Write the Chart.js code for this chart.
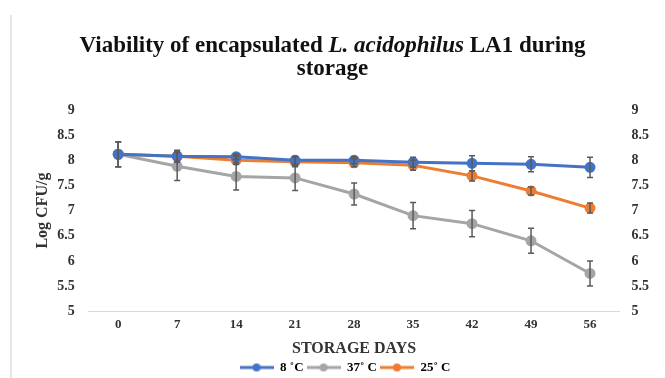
<!DOCTYPE html>
<html>
<head>
<meta charset="utf-8">
<script src="https://cdn.jsdelivr.net/npm/chart.js@4"></script>
<style>
html,body{margin:0;padding:0;background:#fff;}
#wrap{position:relative;width:665px;height:378px;overflow:hidden;}
#title{position:absolute;left:0;top:33px;width:665px;text-align:center;font-family:"Liberation Serif","Times New Roman",serif;font-weight:bold;font-size:23px;line-height:23px;color:#111;}
#leftline{position:absolute;left:10px;top:15px;width:2px;height:363px;background:#e6e6e6;}
canvas{position:absolute;left:0;top:0;}
</style>
</head>
<body>
<div id="wrap">
<div id="leftline"></div>
<canvas id="c" width="665" height="384"></canvas>
<div id="title">Viability of encapsulated <i>L. acidophilus</i> LA1 during<br>storage</div>
</div>
<script>
const days = ["0","7","14","21","28","35","42","49","56"];
const seriesNames = ["8 \u02DAC","37\u02DA C","25\u02DA C"];
const temp8 = [8.12,8.08,8.07,8.00,8.00,7.96,7.94,7.92,7.86];
const temp37 = [8.12,7.88,7.68,7.65,7.33,6.90,6.74,6.40,5.75];
const temp25 = [8.12,8.08,8.00,7.97,7.95,7.90,7.69,7.39,7.05];
const err8 = [0.25,0.12,0.05,0.08,0.07,0.10,0.15,0.15,0.20];
const err37 = [0.25,0.28,0.27,0.25,0.22,0.26,0.26,0.25,0.25];
const err25 = [0.25,0.10,0.08,0.10,0.08,0.10,0.10,0.08,0.10];
const yTicks = [5,5.5,6,6.5,7,7.5,8,8.5,9];
const colors = ["#4472C4","#A5A5A5","#ED7D31"];

function legendIcon(col){
  const cv=document.createElement('canvas');cv.width=34;cv.height=10;
  const g=cv.getContext('2d');
  g.strokeStyle=col;g.lineWidth=3;g.beginPath();g.moveTo(0,5);g.lineTo(34,5);g.stroke();
  g.fillStyle=col;g.beginPath();g.arc(17,5,4,0,Math.PI*2);g.fill();
  return cv;
}

const errorBars = {
  id:'errorBars',
  afterDatasetsDraw(chart){
    const ctx=chart.ctx, ys=chart.scales.y;
    chart.data.datasets.forEach((ds,di)=>{
      const meta=chart.getDatasetMeta(di);
      ctx.save();
      ctx.strokeStyle='#5a5a5a';ctx.lineWidth=1.5;
      meta.data.forEach((pt,i)=>{
        const e=ds.errors[i], v=ds.data[i];
        const y1=ys.getPixelForValue(v+e), y2=ys.getPixelForValue(v-e);
        ctx.beginPath();
        ctx.moveTo(pt.x,y1);ctx.lineTo(pt.x,y2);
        ctx.moveTo(pt.x-3,y1);ctx.lineTo(pt.x+3,y1);
        ctx.moveTo(pt.x-3,y2);ctx.lineTo(pt.x+3,y2);
        ctx.stroke();
      });
      ctx.restore();
    });
  }
};

const font = {family:"'Liberation Serif','Times New Roman',serif", weight:'bold'};
const tickFmt = v => yTicks.includes(v) ? String(v) : '';

new Chart(document.getElementById('c'),{
  type:'line',
  data:{
    labels:days,
    datasets:[temp8,temp37,temp25].map((d,i)=>({
      label:seriesNames[i],
      data:d,
      errors:[err8,err37,err25][i],
      borderColor:colors[i],
      backgroundColor:colors[i],
      borderWidth:3,
      pointRadius:4,
      pointStyle:'circle',
      tension:0
    }))
  },
  options:{
    responsive:false,
    animation:false,
    layout:{padding:{top:110,right:4,left:29,bottom:0}},
    plugins:{
      title:{display:false},
      tooltip:{enabled:false},
      legend:{
        position:'bottom',
        labels:{
          usePointStyle:true,
          pointStyleWidth:34,
          font:{...font,size:13},
          color:'#333',
          padding:3,
          boxHeight:10,
          generateLabels(chart){
            return chart.data.datasets.map((ds,i)=>({
              text:ds.label,fillStyle:colors[i],strokeStyle:colors[i],
              pointStyle:legendIcon(colors[i]),datasetIndex:i,lineWidth:0
            }));
          }
        }
      }
    },
    scales:{
      x:{
        offset:true,
        grid:{display:false,drawTicks:false},
        border:{display:true,color:'#d9d9d9',width:1},
        ticks:{font:{...font,size:13},color:'#333',padding:6},
        title:{display:true,text:'STORAGE DAYS',font:{...font,size:16},color:'#333',padding:{top:0,bottom:0}}
      },
      y:{
        position:'left',min:5,max:9,
        grid:{display:false,drawTicks:false},
        border:{display:false},
        ticks:{stepSize:0.5,font:{...font,size:14},color:'#333',padding:14,callback:tickFmt},
        title:{display:true,text:'Log CFU/g',font:{...font,size:16},color:'#333',padding:{top:4,bottom:-9}}
      },
      y2:{
        position:'right',min:5,max:9,
        grid:{display:false,drawTicks:false},
        border:{display:false},
        ticks:{stepSize:0.5,font:{...font,size:14},color:'#333',padding:12,callback:tickFmt}
      }
    }
  },
  plugins:[errorBars]
});
</script>
</body>
</html>
